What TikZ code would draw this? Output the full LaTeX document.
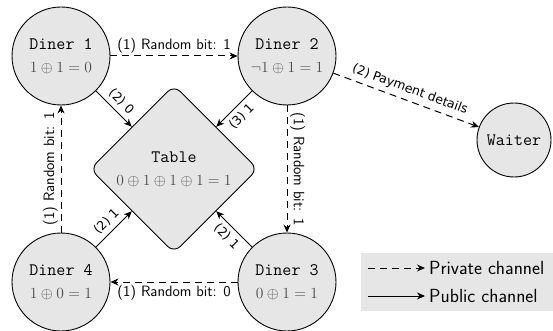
\RequirePackage{fix-cm}
\documentclass[tikz,border=0pt]{standalone}
\usepackage{fontspec}
\newfontfamily\dejavu{DejaVu Sans}
\usetikzlibrary{arrows.meta,shapes.geometric}
\definecolor{nodefill}{HTML}{E6E6E6}
\definecolor{mathgray}{HTML}{4A4A4A}
\newcommand{\mgray}[1]{{\fontsize{15.5}{23}\selectfont\color{mathgray}$#1$}}
\begin{document}
\begin{tikzpicture}[x=1pt,y=-1pt,
  diner/.style={circle,draw,fill=nodefill,line width=0.9pt,minimum size=98pt,inner sep=0pt,align=center,font=\fontsize{17.5}{23}\selectfont\ttfamily},
  tablebox/.style={diamond,draw,fill=nodefill,line width=0.9pt,minimum width=168pt,minimum height=168pt,inner sep=0pt,rounded corners=9pt,align=center,font=\fontsize{17.5}{23}\selectfont\ttfamily},
  private/.style={line width=1pt,dash pattern=on 7pt off 5pt,-{Stealth[length=8pt,width=7pt]}},
  public/.style={line width=1pt,-{Stealth[length=8pt,width=7pt]}},
  lbl/.style={font=\fontsize{15}{16}\selectfont\sffamily,inner sep=2.5pt},
  slbl/.style={font=\fontsize{12.5}{14}\selectfont\dejavu,inner sep=4.5pt,sloped},
  legtext/.style={font=\fontsize{19}{21}\selectfont\sffamily,anchor=west,inner sep=0pt}]
\useasboundingbox (0,0) rectangle (553,331);

\node[diner] (d1) at (61,56) {Diner 1\\\mgray{1\oplus 1=0}};
\node[diner] (d2) at (287,56) {Diner 2\\\mgray{\neg 1\oplus 1=1}};
\node[diner] (d3) at (287,282) {Diner 3\\\mgray{0\oplus 1=1}};
\node[diner] (d4) at (61,282) {Diner 4\\\mgray{1\oplus 0=1}};
\node[diner,minimum size=74pt] (w) at (514,140) {Waiter};
\node[tablebox] (t) at (174,169) {Table\\\mgray{0\oplus 1\oplus 1\oplus 1=1}};

% private channels
\draw[private] (d1) -- node[lbl,above] {(1) Random bit: 1} (d2);
\draw[private] (d2) -- node[lbl,rotate=-90,anchor=south] {(1) Random bit: 1} (d3);
\draw[private] (d3) -- node[lbl,below] {(1) Random bit: 0} (d4);
\draw[private] (d4) -- node[lbl,rotate=90,anchor=south] {(1) Random bit: 1} (d1);
\draw[private] (d2) -- node[slbl,above] {(2) Payment details} (w);

% public channels
\draw[public] (d1) -- node[slbl,above] {(2) 0} (t);
\draw[public] (d2) -- node[slbl,below] {(3) 1} (t);
\draw[public] (d4) -- node[slbl,above] {(2) 1} (t);
\draw[public] (d3) -- node[slbl,below] {(2) 1} (t);

% legend
\node[fill=nodefill,minimum width=192pt,minimum height=58pt,inner sep=0pt,anchor=north west] (leg) at (361,253) {};
\coordinate (pa) at (368,268);
\coordinate (pb) at (425,268);
\coordinate (qa) at (368,296);
\coordinate (qb) at (425,296);
\draw[private] (pa) -- (pb);
\draw[public] (qa) -- (qb);
\node[legtext] (lt1) at (429,268) {Private channel};
\node[legtext] (lt2) at (429,296) {Public channel};
\end{tikzpicture}
\end{document}
